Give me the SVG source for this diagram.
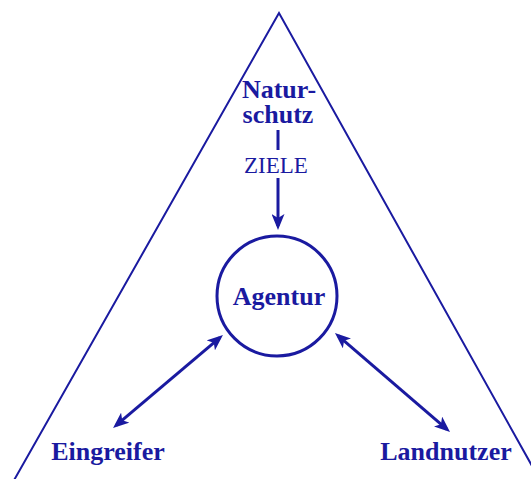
<svg xmlns="http://www.w3.org/2000/svg" width="531" height="479" viewBox="0 0 531 479">
  <style>
    .lbl { font-family: "Liberation Serif", "Times New Roman", serif; font-weight: bold; font-size: 26px; fill: #1a1aa0; text-anchor: middle; }
    .edge { font-family: "Liberation Serif", "Times New Roman", serif; font-size: 23px; fill: #1a1aa0; text-anchor: middle; }
    .conn { stroke: #1a1aa0; stroke-width: 3; fill: none; }
  </style>
  <defs>
    <marker id="head" markerUnits="userSpaceOnUse" markerWidth="17" markerHeight="13" refX="12" refY="6.5" orient="auto-start-reverse" viewBox="0 0 17 13">
      <path d="M0,0 L16,6.5 L0,13 L4,6.5 z" fill="#1a1aa0"/>
    </marker>
  </defs>
  <rect width="531" height="479" fill="#ffffff"/>
  <polygon id="triangle" points="279,13 13,482 541,482" fill="none" stroke="#1a1aa0" stroke-width="2"/>
  <g id="naturschutz">
    <text class="lbl" x="279" y="98">Natur-</text>
    <text class="lbl" x="278" y="123">schutz</text>
  </g>
  <g id="agentur">
    <circle cx="277" cy="296" r="60" fill="none" stroke="#1a1aa0" stroke-width="3"/>
    <text class="lbl" x="279" y="305">Agentur</text>
  </g>
  <g id="eingreifer">
    <text class="lbl" x="108" y="460">Eingreifer</text>
  </g>
  <g id="landnutzer">
    <text class="lbl" x="446" y="460">Landnutzer</text>
  </g>
  <g id="connectors">
    <line class="conn" x1="278" y1="130" x2="278" y2="150"/>
    <text class="edge" x="276" y="173">ZIELE</text>
    <line class="conn" x1="278" y1="178" x2="278" y2="226" marker-end="url(#head)"/>
    <line class="conn" x1="116.1" y1="425.4" x2="219.9" y2="337.6" marker-start="url(#head)" marker-end="url(#head)"/>
    <line class="conn" x1="338" y1="335.6" x2="447" y2="429.4" marker-start="url(#head)" marker-end="url(#head)"/>
  </g>
</svg>
